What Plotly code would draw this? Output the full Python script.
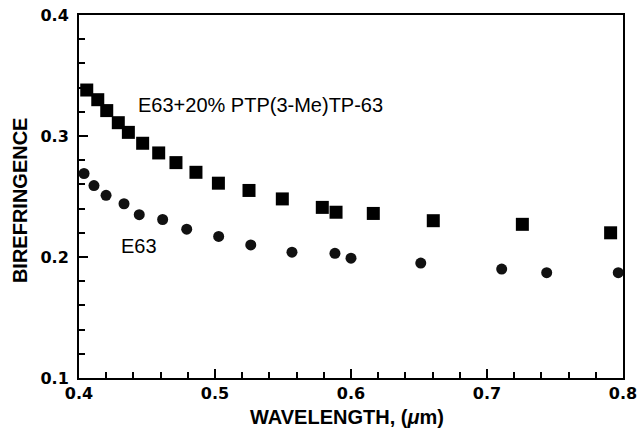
import plotly.graph_objects as go

# E63 + 20% PTP(3-Me)TP-63 (squares)
wl_mix = [0.4057, 0.4138, 0.4204, 0.4289, 0.4363, 0.4468, 0.4586, 0.4713, 0.4860,
          0.5025, 0.5250, 0.5495, 0.5789, 0.5890, 0.6164, 0.6605, 0.7260, 0.7909]
dn_mix = [0.338, 0.330, 0.321, 0.311, 0.303, 0.294, 0.286, 0.278, 0.270,
          0.261, 0.255, 0.248, 0.241, 0.237, 0.236, 0.230, 0.227, 0.220]

# pure E63 (circles)
wl_e63 = [0.4037, 0.4110, 0.4199, 0.4331, 0.4443, 0.4615, 0.4792, 0.5027,
          0.5263, 0.5566, 0.5882, 0.6000, 0.6513, 0.7108, 0.7439, 0.7965]
dn_e63 = [0.269, 0.259, 0.251, 0.244, 0.235, 0.231, 0.223, 0.217,
          0.210, 0.204, 0.203, 0.199, 0.195, 0.190, 0.187, 0.187]

font = "Liberation Sans, Arial, sans-serif"
tick_font = "DejaVu Sans, sans-serif"

fig = go.Figure()
fig.add_trace(go.Scatter(x=wl_mix, y=dn_mix, mode="markers",
                         marker=dict(symbol="square", size=13, color="black"),
                         cliponaxis=False, showlegend=False))
fig.add_trace(go.Scatter(x=wl_e63, y=dn_e63, mode="markers",
                         marker=dict(symbol="circle", size=11, color="#111"),
                         cliponaxis=False, showlegend=False))

# curve labels
fig.add_annotation(x=0.4419, y=0.3256, text="E63+20% PTP(3-Me)TP-63", showarrow=False,
                   xanchor="left", font=dict(family=font, size=20, color="black"))
fig.add_annotation(x=0.4294, y=0.2093, text="E63", showarrow=False,
                   xanchor="left", font=dict(family=font, size=20, color="black"))

# axis titles, placed by hand
fig.add_annotation(xref="paper", yref="paper", x=0.4926, y=-0.107, text="WAVELENGTH, (<i>μ</i>m)",
                   showarrow=False, xanchor="center", yanchor="middle",
                   font=dict(family=font, size=20, color="black", weight="bold"))
fig.add_annotation(xref="paper", yref="paper", x=-0.1085, y=0.49, text="BIREFRINGENCE",
                   showarrow=False, textangle=-90, xanchor="center", yanchor="middle",
                   font=dict(family=font, size=20, color="black", weight="bold"))

axis_common = dict(showline=True, linewidth=2, linecolor="black", mirror=True,
                   ticks="inside", ticklen=9, tickwidth=2, tickcolor="black",
                   showgrid=False, zeroline=False, automargin=False,
                   ticklabeloverflow="allow",
                   tickfont=dict(family=tick_font, size=16, color="black", weight="bold"))

fig.update_xaxes(range=[0.4, 0.8], dtick=0.1, tickformat=".1f",
                 minor=dict(ticks="inside", ticklen=6, tickwidth=1.5, dtick=0.02, tickcolor="black"),
                 **axis_common)
fig.update_yaxes(range=[0.1, 0.4], dtick=0.1, tickformat=".1f", ticklabelstandoff=5,
                 minor=dict(ticks="inside", ticklen=6, tickwidth=1.5, dtick=0.02, tickcolor="black"),
                 **axis_common)

fig.update_layout(width=637, height=430, plot_bgcolor="white", paper_bgcolor="white",
                  margin=dict(l=79, r=14, t=15, b=52))

# drop the default 8px body margin so the figure sits at the page corner
fig.write_html("out.html", config={"displayModeBar": False},
               post_script="document.body.style.margin='0';")
